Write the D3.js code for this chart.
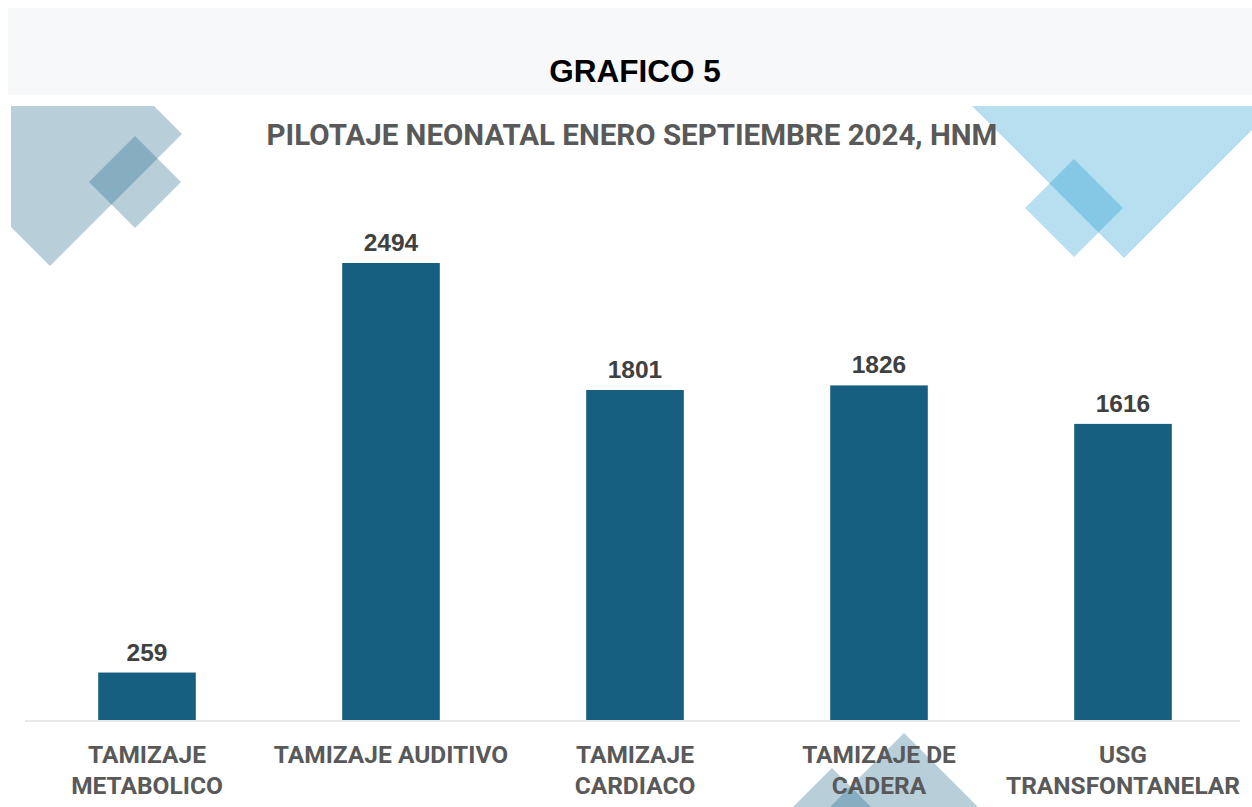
<!DOCTYPE html>
<html>
<head>
<meta charset="utf-8">
<script src="https://cdn.jsdelivr.net/npm/d3@7"></script>
<style>
  html, body { margin: 0; padding: 0; background: #ffffff; }
  svg { display: block; }
</style>
</head>
<body>
<div id="chart"></div>
<script>
// Data
const categories = [
  ['TAMIZAJE', 'METABOLICO'],
  ['TAMIZAJE AUDITIVO'],
  ['TAMIZAJE', 'CARDIACO'],
  ['TAMIZAJE DE', 'CADERA'],
  ['USG', 'TRANSFONTANELAR']
];
const values = [259, 2494, 1801, 1826, 1616];
const pageTitle = 'GRAFICO 5';
const chartTitle = 'PILOTAJE NEONATAL ENERO SEPTIEMBRE 2024, HNM';

const width = 1252, height = 807;
const barColor = '#175f80';
const labelFont = 'Roboto, "Liberation Sans", Arial, sans-serif';

const svg = d3.select('#chart').append('svg')
  .attr('width', width)
  .attr('height', height)
  .attr('viewBox', `0 0 ${width} ${height}`);

// header band
svg.append('rect')
  .attr('x', 8).attr('y', 8)
  .attr('width', width - 8).attr('height', 87)
  .attr('fill', '#f7f8fa');

svg.append('text')
  .attr('x', 635).attr('y', 82)
  .attr('text-anchor', 'middle')
  .attr('font-family', '"Liberation Sans", Arial, sans-serif')
  .attr('font-weight', 'bold')
  .attr('font-size', 31.5)
  .attr('fill', '#000')
  .text(pageTitle);

// chart area clip for the decorative diamonds
svg.append('clipPath').attr('id', 'area')
  .append('rect')
  .attr('x', 11).attr('y', 106)
  .attr('width', width - 11).attr('height', height - 106);

const deco = svg.append('g').attr('clip-path', 'url(#area)');
const diamond = (cx, cy, r) => `M${cx},${cy - r}L${cx + r},${cy}L${cx},${cy + r}L${cx - r},${cy}Z`;

// grey-blue shapes (top left + bottom centre)
[[50, 134, 132], [135, 182, 46], [904, 887, 154], [832, 848, 80]].forEach(d => {
  deco.append('path')
    .attr('d', diamond(d[0], d[1], d[2]))
    .attr('fill', '#1a6488')
    .attr('fill-opacity', 0.31);
});
// light blue shapes (top right)
[[1124, 100, 158], [1074, 208, 49]].forEach(d => {
  deco.append('path')
    .attr('d', diamond(d[0], d[1], d[2]))
    .attr('fill', '#008cc8')
    .attr('fill-opacity', 0.28);
});

// chart title
svg.append('text')
  .attr('x', 632).attr('y', 145)
  .attr('text-anchor', 'middle')
  .attr('font-family', labelFont)
  .attr('font-weight', 'bold')
  .attr('font-size', 29.5)
  .attr('fill', '#595959')
  .text(chartTitle);

const x = d3.scaleBand()
  .domain(d3.range(values.length))
  .range([25, 1245])
  .paddingInner(0.6)
  .paddingOuter(0.3);

const y = d3.scaleLinear()
  .domain([0, 2494])
  .range([720, 263]);

// baseline
svg.append('line')
  .attr('x1', 25).attr('x2', 1240)
  .attr('y1', y(0) + 1).attr('y2', y(0) + 1)
  .attr('stroke', '#e8e8e8')
  .attr('stroke-width', 2);

// bars
svg.selectAll('.bar')
  .data(values)
  .enter()
  .append('rect')
  .attr('class', 'bar')
  .attr('x', (d, i) => x(i))
  .attr('y', d => y(d))
  .attr('width', x.bandwidth())
  .attr('height', d => y(0) - y(d))
  .attr('fill', barColor);

// value labels
svg.selectAll('.value')
  .data(values)
  .enter()
  .append('text')
  .attr('class', 'value')
  .attr('x', (d, i) => x(i) + x.bandwidth() / 2)
  .attr('y', d => y(d) - 12)
  .attr('text-anchor', 'middle')
  .attr('font-family', '"Liberation Sans", Arial, sans-serif')
  .attr('font-weight', 'bold')
  .attr('font-size', 24.5)
  .attr('fill', '#404040')
  .text(d => d);

// category labels
const cat = svg.selectAll('.cat')
  .data(categories)
  .enter()
  .append('text')
  .attr('class', 'cat')
  .attr('text-anchor', 'middle')
  .attr('font-family', labelFont)
  .attr('font-weight', 'bold')
  .attr('font-size', 24.5)
  .attr('fill', '#595959');

cat.selectAll('tspan')
  .data((d, i) => d.map(t => ({ t, i })))
  .enter()
  .append('tspan')
  .attr('x', d => x(d.i) + x.bandwidth() / 2)
  .attr('y', (d, j) => 763 + j * 31)
  .text(d => d.t);
</script>
</body>
</html>
